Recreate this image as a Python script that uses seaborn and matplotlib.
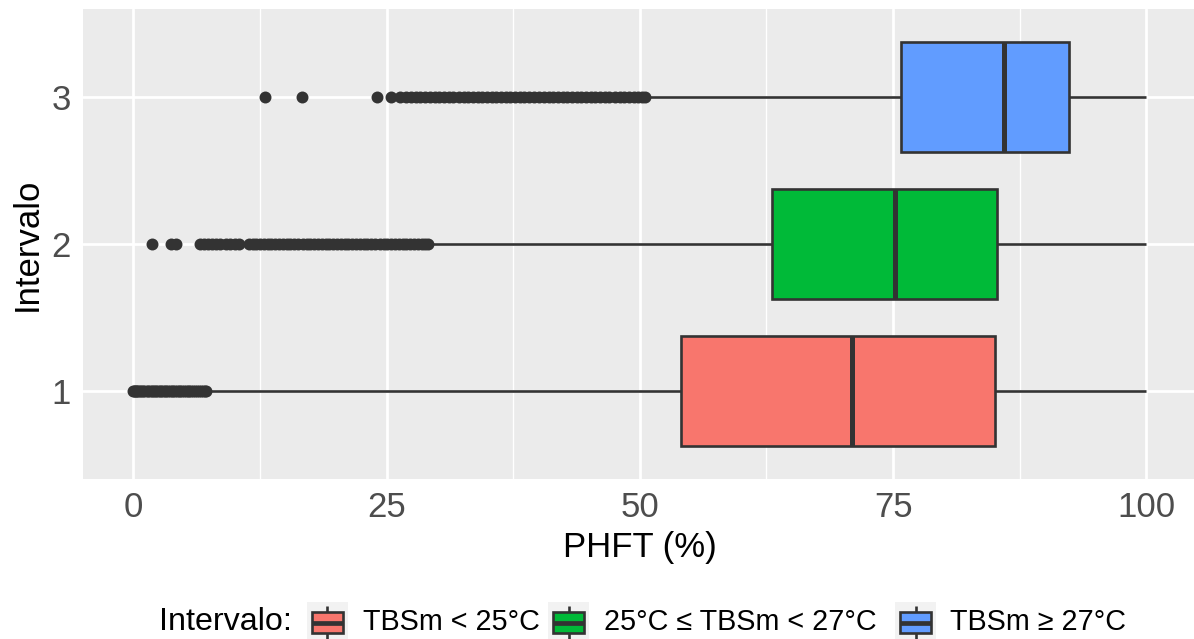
import numpy as np
import pandas as pd
import matplotlib
matplotlib.use("Agg")
import matplotlib.pyplot as plt
from matplotlib.patches import Rectangle
from matplotlib.lines import Line2D
from matplotlib.ticker import MultipleLocator
import seaborn as sns

# ---- data -------------------------------------------------------------
groups = ["1", "2", "3"]
legend_labels = ["TBSm < 25°C", "25°C ≤ TBSm < 27°C", "TBSm ≥ 27°C"]
colors = ["#F8766D", "#00BA38", "#619CFF"]

# box summaries (PHFT, %)
q1 = [54.1, 63.0, 75.8]
median = [70.9, 75.2, 85.9]
q3 = [85.1, 85.3, 92.4]
whisker_low = [7.7, 29.6, 51.0]
whisker_high = [100.0, 100.0, 100.0]

# individual low values beyond the lower whisker
outliers_1 = [0.0, 0.1, 0.2, 0.3, 0.4, 0.5, 0.7, 0.8, 1.0, 1.1, 1.3, 1.4, 1.6,
              1.8, 1.9, 2.1, 2.2, 2.4, 2.6, 2.7, 2.9, 3.1, 3.2, 3.4, 3.6, 3.8,
              3.9, 4.1, 4.3, 4.5, 4.6, 4.8, 5.0, 5.2, 5.4, 5.5, 5.7, 5.9, 6.1,
              6.3, 6.5, 6.7, 6.9, 7.1, 7.2]
outliers_2 = [1.8, 3.7, 4.2, 6.6, 7.0, 7.4, 7.8, 8.2, 8.6, 9.1, 9.5, 10.0, 10.4,
              11.4, 11.8, 12.1, 12.5, 12.9, 13.3, 13.6, 14.0, 14.4, 14.8, 15.2,
              15.5, 15.9, 16.3, 16.7, 17.1, 17.4, 17.8, 18.2, 18.6, 19.0, 19.3,
              19.7, 20.1, 20.5, 20.9, 21.2, 21.6, 22.0, 22.4, 22.8, 23.1, 23.5,
              23.9, 24.3, 24.7, 25.0, 25.4, 25.8, 26.2, 26.6, 26.9, 27.3, 27.7,
              28.1, 28.5, 28.8, 29.1]
outliers_3 = [13.0, 16.6, 24.1, 25.4, 26.3, 26.9, 27.4, 27.9, 28.3, 28.8, 29.3,
              29.8, 30.2, 30.7, 31.2, 31.6, 32.1, 32.6, 33.0, 33.5, 34.0, 34.4,
              34.9, 35.4, 35.8, 36.3, 36.8, 37.2, 37.7, 38.2, 38.6, 39.1, 39.6,
              40.0, 40.5, 41.0, 41.4, 41.9, 42.4, 42.8, 43.3, 43.8, 44.2, 44.7,
              45.2, 45.6, 46.1, 46.6, 47.0, 47.5, 48.0, 48.4, 48.9, 49.4, 49.8,
              50.2, 50.5]
outliers = [outliers_1, outliers_2, outliers_3]

# sample per group whose quartiles and whisker ends equal the summaries above
rows = []
for g, lo, a, m, b, hi, out in zip(groups, whisker_low, q1, median, q3,
                                   whisker_high, outliers):
    vals = list(out) + [lo] + [a] * 400 + [m] * 400 + [b] * 400 + [hi]
    rows += [(g, v) for v in vals]
df = pd.DataFrame(rows, columns=["Intervalo", "PHFT"])

# ---- style ------------------------------------------------------------
sns.set_theme(style="darkgrid")
plt.rcParams["font.family"] = ["Liberation Sans", "DejaVu Sans"]

W, H = 1194, 639
fig = plt.figure(figsize=(W / 100, H / 100), dpi=100)
ax = fig.add_axes([82.7 / W, 1 - 479 / H, (1197 - 82.7) / W, 470 / H])
ax.set_facecolor("#EBEBEB")

dark = "#333333"
sns.boxplot(
    data=df, x="PHFT", y="Intervalo", hue="Intervalo",
    order=groups, hue_order=groups, palette=colors, saturation=1,
    orient="h", width=0.75, whis=1.5, linecolor=dark, linewidth=1.9,
    fliersize=8.6, showcaps=False, legend=False, ax=ax,
    flierprops=dict(marker="o", markerfacecolor=dark, markeredgecolor=dark,
                    markeredgewidth=0),
    medianprops=dict(linewidth=3.6, color=dark),
)

ax.set_xlim(-5, 105)
ax.set_ylim(-0.6, 2.6)
ax.set_xticks([0, 25, 50, 75, 100])
ax.set_xticklabels(["0", "25", "50", "75", "100"])
ax.xaxis.set_minor_locator(MultipleLocator(12.5))
ax.set_yticks([0, 1, 2])
ax.set_yticklabels(groups)

ax.set_axisbelow(True)
ax.grid(False)
ax.grid(True, which="major", axis="both", color="white", linewidth=1.95)
ax.grid(True, which="minor", axis="x", color="white", linewidth=0.97)
for s in ax.spines.values():
    s.set_visible(False)

ax.tick_params(axis="both", which="major", length=5, width=1.9, color=dark,
               labelsize=25, labelcolor="#4D4D4D", pad=3.5)
ax.tick_params(axis="x", which="minor", length=0)

ax.set_xlabel("PHFT (%)", fontsize=25, color="black")
ax.set_ylabel("Intervalo", fontsize=25, color="black")
ax.xaxis.set_label_coords(0.5, (479 - 548) / 470)
ax.xaxis.label.set_va("center")
ax.yaxis.set_label_coords((27 - 82.7) / 1114.3, 0.5)
ax.yaxis.label.set_va("center")


# ---- legend (horizontal, below the panel) -----------------------------
def px(x, y):
    """pixel position measured from the top-left corner -> figure fraction"""
    return x / W, 1 - y / H


def draw_key(left, top, size, color):
    def fx(f):
        return left + f * size

    def fy(f):
        return top + f * size

    x0, y0 = px(left, top + size)
    fig.add_artist(Rectangle((x0, y0), size / W, size / H,
                             transform=fig.transFigure, facecolor="#F2F2F2",
                             edgecolor="none"))
    bx, by = px(fx(0.125), fy(0.75))
    fig.add_artist(Rectangle((bx, by), 0.75 * size / W, 0.5 * size / H,
                             transform=fig.transFigure, facecolor=color,
                             edgecolor=dark, linewidth=1.9))
    for xs, ys, lw in (
        ((fx(0.125), fx(0.875)), (fy(0.5), fy(0.5)), 3.4),
        ((fx(0.5), fx(0.5)), (fy(0.1), fy(0.25)), 1.9),
        ((fx(0.5), fx(0.5)), (fy(0.75), fy(0.9)), 1.9),
    ):
        p0, p1 = px(xs[0], ys[0]), px(xs[1], ys[1])
        fig.add_artist(Line2D([p0[0], p1[0]], [p0[1], p1[1]],
                              transform=fig.transFigure, color=dark,
                              linewidth=lw, solid_capstyle="butt"))


key_left = [307, 548, 895]
text_left = [363, 604, 950]
for kl, tl, lab, c in zip(key_left, text_left, legend_labels, colors):
    draw_key(kl, 602, 41, c)
    fig.text(*px(tl, 622.5), lab, fontsize=20.7, va="center", ha="left",
             color="black")

fig.text(*px(159, 622), "Intervalo:", fontsize=23.2, va="center",
         ha="left", color="black")

fig.savefig("out.png", dpi=100)
